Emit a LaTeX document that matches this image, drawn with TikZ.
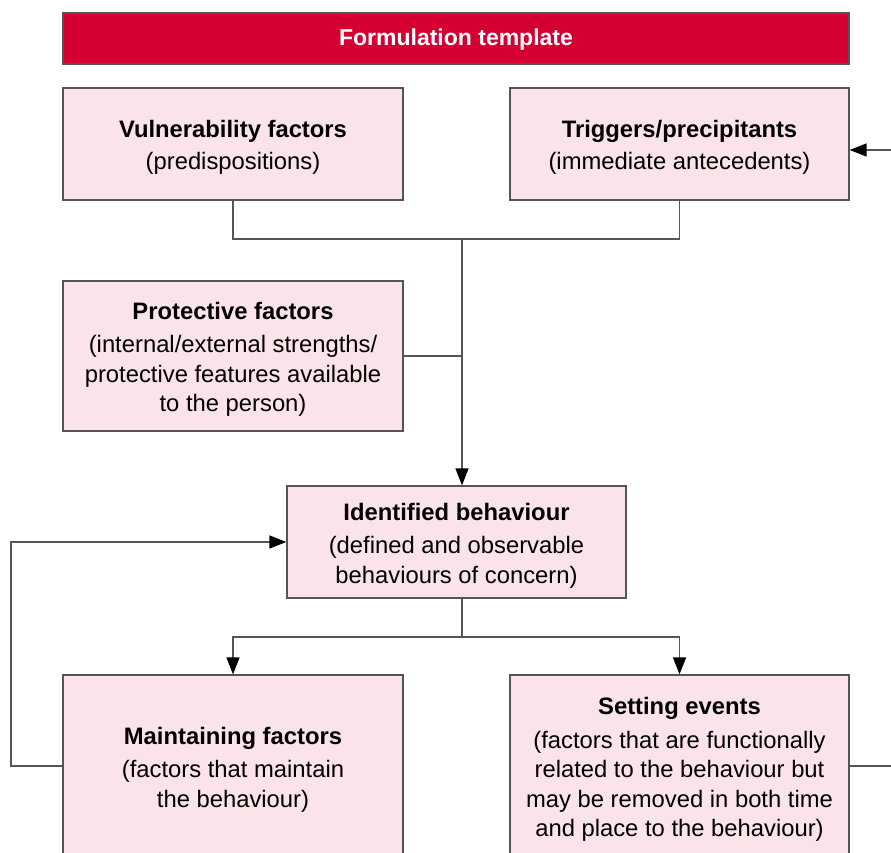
\documentclass[tikz,border=0pt]{standalone}
\usepackage{fontspec}
\setmainfont{Liberation Sans}
\usetikzlibrary{arrows.meta}
\definecolor{headred}{HTML}{D50032}
\definecolor{boxpink}{HTML}{FBE3EA}
\definecolor{edgegray}{HTML}{555555}
% a strut that pushes the text block slightly downward in its box
\newcommand{\topstrut}{\rule{0pt}{24pt}}
\begin{document}
\begin{tikzpicture}[x=1pt,y=-1pt,
  txt/.style={font=\fontsize{23.8}{29.5}\selectfont},
  card/.style={draw=edgegray, line width=1.3pt, fill=boxpink, rectangle, inner sep=0pt,
    align=center, txt, minimum width=#1},
  card/.default=340pt,
  link/.style={draw=edgegray, line width=1.4pt},
  flow/.style={link, -{Triangle[length=17pt,width=13pt,color=black]}}]
\clip (0,0) rectangle (891,852);
\useasboundingbox (0,0) rectangle (891,852);

% header bar
\node[draw=edgegray, line width=1.3pt, fill=headred, minimum width=786pt, minimum height=51pt,
  inner sep=0pt, text=white, font=\fontsize{23}{28}\selectfont\bfseries] (head) at (456,38.5) {\rule{0pt}{19pt}Formulation template};

% upper row
\node[card, minimum height=112pt] (vuln) at (233,144)
  {\topstrut\textbf{Vulnerability factors}\\[3pt](predispositions)};
\node[card=339pt, minimum height=112pt] (trig) at (679.5,144)
  {\topstrut\textbf{Triggers/precipitants}\\[3pt](immediate antecedents)};

% protective factors
\node[card, minimum height=150pt] (prot) at (233,356)
  {\topstrut\textbf{Protective factors}\\[4pt](internal/external strengths/\\protective features available\\to the person)};

% central behaviour
\node[card=339pt, minimum height=112pt] (ident) at (456.5,542)
  {\topstrut\textbf{Identified behaviour}\\[4pt](defined and observable\\behaviours of concern)};

% lower row
\node[card, minimum height=182pt] (maint) at (233,766)
  {\topstrut\textbf{Maintaining factors}\\[4pt](factors that maintain\\the behaviour)};
\node[card=339pt, minimum height=182pt] (setev) at (679.5,766)
  {\topstrut\textbf{Setting events}\\[4pt](factors that are functionally\\related to the behaviour but\\may be removed in both time\\and place to the behaviour)};

% junction points and free ends
\coordinate (jtop) at (462,239);
\coordinate (jbot) at (462,637);
\coordinate (lback) at (11,542);
\coordinate (rin) at (891,150);
\coordinate (rout) at (891,766);

% connectors
\draw[link] (vuln.south) |- (jtop);
\draw[link] (trig.south) |- (jtop);
\draw[link] (prot.east) -- (prot.east -| jtop);
\draw[flow] (jtop) -- (jtop |- ident.north);
\draw[link] (jbot |- ident.south) -- (jbot);
\draw[flow] (jbot) -| (maint.north);
\draw[flow] (jbot) -| (setev.north);
\draw[flow] (maint.west) -| (lback) -- (ident.west);
\draw[link] (setev.east) -- (rout);
\draw[flow] (rin) -- (rin -| trig.east);
\end{tikzpicture}
\end{document}
